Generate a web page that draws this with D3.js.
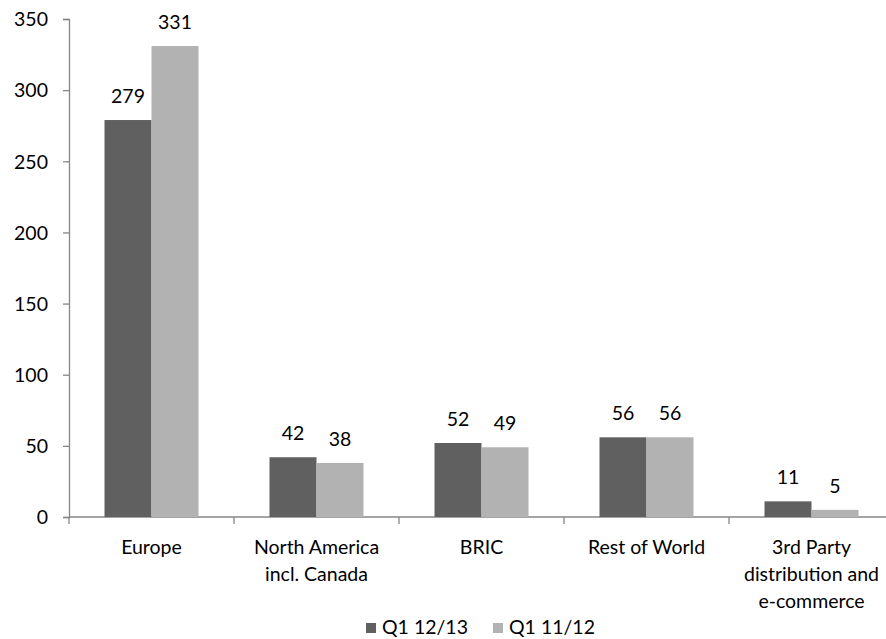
<!DOCTYPE html>
<html>
<head>
<meta charset="utf-8">
<script src="https://cdn.jsdelivr.net/npm/d3@7"></script>
<style>
  html, body { margin: 0; padding: 0; background: #fff; }
  svg text { font-family: Lato, "Open Sans", sans-serif; fill: #000; }
</style>
</head>
<body>
<svg id="chart" width="886" height="639"></svg>
<script>
// Sales by region, two quarters compared
const categories = [
  ["Europe"],
  ["North America", "incl. Canada"],
  ["BRIC"],
  ["Rest of World"],
  ["3rd Party", "distribution and", "e-commerce"]
];
const seriesNames = ["Q1 12/13", "Q1 11/12"];
const q1_1213 = [279, 42, 52, 56, 11];
const q1_1112 = [331, 38, 49, 56, 5];
const yTicks = [0, 50, 100, 150, 200, 250, 300, 350];
const colors = ["#606060", "#b2b2b2"];
const axisColor = "#868686";

const svg = d3.select("#chart");
const fontSize = 19.5;

const x0 = 69, x1 = 894, yTop = 19, yBottom = 517;
const catKeys = categories.map((c, i) => i);

const y = d3.scaleLinear().domain([0, 350]).range([yBottom, yTop]);
const x = d3.scaleBand().domain(catKeys).range([x0, x1]).paddingInner(0).paddingOuter(0);
const groupPad = (x.bandwidth() - 94) / 2;
const xs = d3.scaleBand().domain([0, 1]).range([groupPad, x.bandwidth() - groupPad]).padding(0);

// y axis
const yAxis = svg.append("g")
  .attr("transform", `translate(${x0},0)`)
  .call(d3.axisLeft(y).tickValues(yTicks).tickSize(6).tickPadding(15));
yAxis.select(".domain").attr("stroke", axisColor).attr("stroke-width", 1.3);
yAxis.selectAll(".tick line").attr("stroke", axisColor).attr("stroke-width", 1.3);
yAxis.selectAll(".tick text").style("font-size", fontSize + "px").attr("dy", "0.35em");

// x axis baseline with category boundary ticks
const bounds = catKeys.map(k => x(k)).concat([x1]);
svg.append("line")
  .attr("x1", x0).attr("x2", x1)
  .attr("y1", y(0)).attr("y2", y(0))
  .attr("stroke", axisColor).attr("stroke-width", 1.3);
svg.selectAll(".xtick").data(bounds).enter().append("line")
  .attr("class", "xtick")
  .attr("x1", d => d).attr("x2", d => d)
  .attr("y1", y(0)).attr("y2", y(0) + 7)
  .attr("stroke", axisColor).attr("stroke-width", 1.3);

// bars
const data = catKeys.map(i => [q1_1213[i], q1_1112[i]]);
const groups = svg.selectAll(".grp").data(data).enter().append("g")
  .attr("class", "grp")
  .attr("transform", (d, i) => `translate(${x(i)},0)`);

groups.selectAll("rect").data(d => d).enter().append("rect")
  .attr("x", (d, j) => xs(j))
  .attr("width", xs.bandwidth())
  .attr("y", d => y(d))
  .attr("height", d => y(0) - y(d))
  .attr("fill", (d, j) => colors[j]);

groups.selectAll(".val").data(d => d).enter().append("text")
  .attr("class", "val")
  .attr("x", (d, j) => xs(j) + xs.bandwidth() / 2)
  .attr("y", d => y(d) - 17)
  .attr("text-anchor", "middle")
  .style("font-size", fontSize + "px")
  .text(d => d);

// category labels
const catLabels = svg.selectAll(".cat").data(categories).enter().append("text")
  .attr("class", "cat")
  .attr("text-anchor", "middle")
  .style("font-size", fontSize + "px")
  .attr("transform", (d, i) => `translate(${x(i) + x.bandwidth() / 2},554)`);
catLabels.selectAll("tspan").data(d => d).enter().append("tspan")
  .attr("x", 0)
  .attr("y", (d, j) => j * 27)
  .text(d => d);

// legend
const legendX = [366, 493];
const legend = svg.selectAll(".leg").data(seriesNames).enter().append("g")
  .attr("class", "leg")
  .attr("transform", (d, i) => `translate(${legendX[i]},623)`);
legend.append("rect")
  .attr("width", 10).attr("height", 10)
  .attr("fill", (d, i) => colors[i]);
legend.append("text")
  .attr("x", 16).attr("y", 11)
  .style("font-size", fontSize + "px")
  .text(d => d);
</script>
</body>
</html>
